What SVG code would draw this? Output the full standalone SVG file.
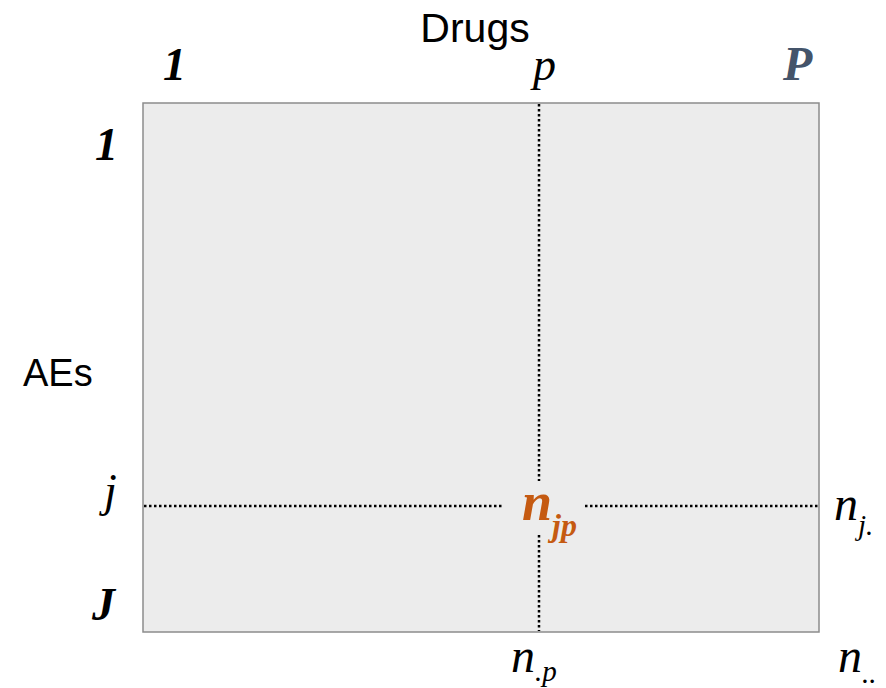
<svg xmlns="http://www.w3.org/2000/svg" width="886" height="688" viewBox="0 0 886 688">
<style>
.sans{font-family:"Liberation Sans",Arial,sans-serif;fill:#000}
.m{font-family:"Liberation Serif","Times New Roman",serif;font-style:italic;fill:#000}
.b{font-weight:bold}
.dot{stroke:#000;stroke-width:2.5;stroke-dasharray:2.5 2.5;fill:none}
</style>
<rect id="grid" x="143" y="103" width="676" height="529" fill="#ececec" stroke="#8c8c8c" stroke-width="1.5"/>
<g id="connectors">
<line class="dot" x1="539" y1="104" x2="539" y2="481"/>
<line class="dot" x1="539" y1="535" x2="539" y2="631"/>
<line class="dot" x1="144" y1="506" x2="503" y2="506"/>
<line class="dot" x1="585" y1="506" x2="818" y2="506"/>
</g>
<g id="labels">
<text class="sans" x="475" y="42" font-size="41" text-anchor="middle">Drugs</text>
<text class="sans" x="23" y="386" font-size="38">AEs</text>
<text class="m b" x="163" y="80" font-size="46">1</text>
<text class="m" x="533" y="80" font-size="46">p</text>
<text class="m b" x="783" y="80" font-size="48" style="fill:#44546a">P</text>
<text class="m b" x="95" y="160" font-size="46">1</text>
<text class="m" x="104" y="506" font-size="46">j</text>
<text class="m b" x="92" y="620" font-size="46">J</text>
</g>
<g id="n_jp">
<text class="m b" x="522" y="520" font-size="54" style="fill:#c55a11">n<tspan font-size="32" dy="16">jp</tspan></text>
</g>
<g id="n_j">
<text class="m" x="834" y="520" font-size="48">n<tspan font-size="29" dy="15">j.</tspan></text>
</g>
<g id="n_p">
<text class="m" x="511" y="672" font-size="48">n<tspan font-size="29" dy="9">.p</tspan></text>
</g>
<g id="n_all">
<text class="m" x="838" y="672" font-size="48">n<tspan font-size="29" dy="11">..</tspan></text>
</g>
</svg>
